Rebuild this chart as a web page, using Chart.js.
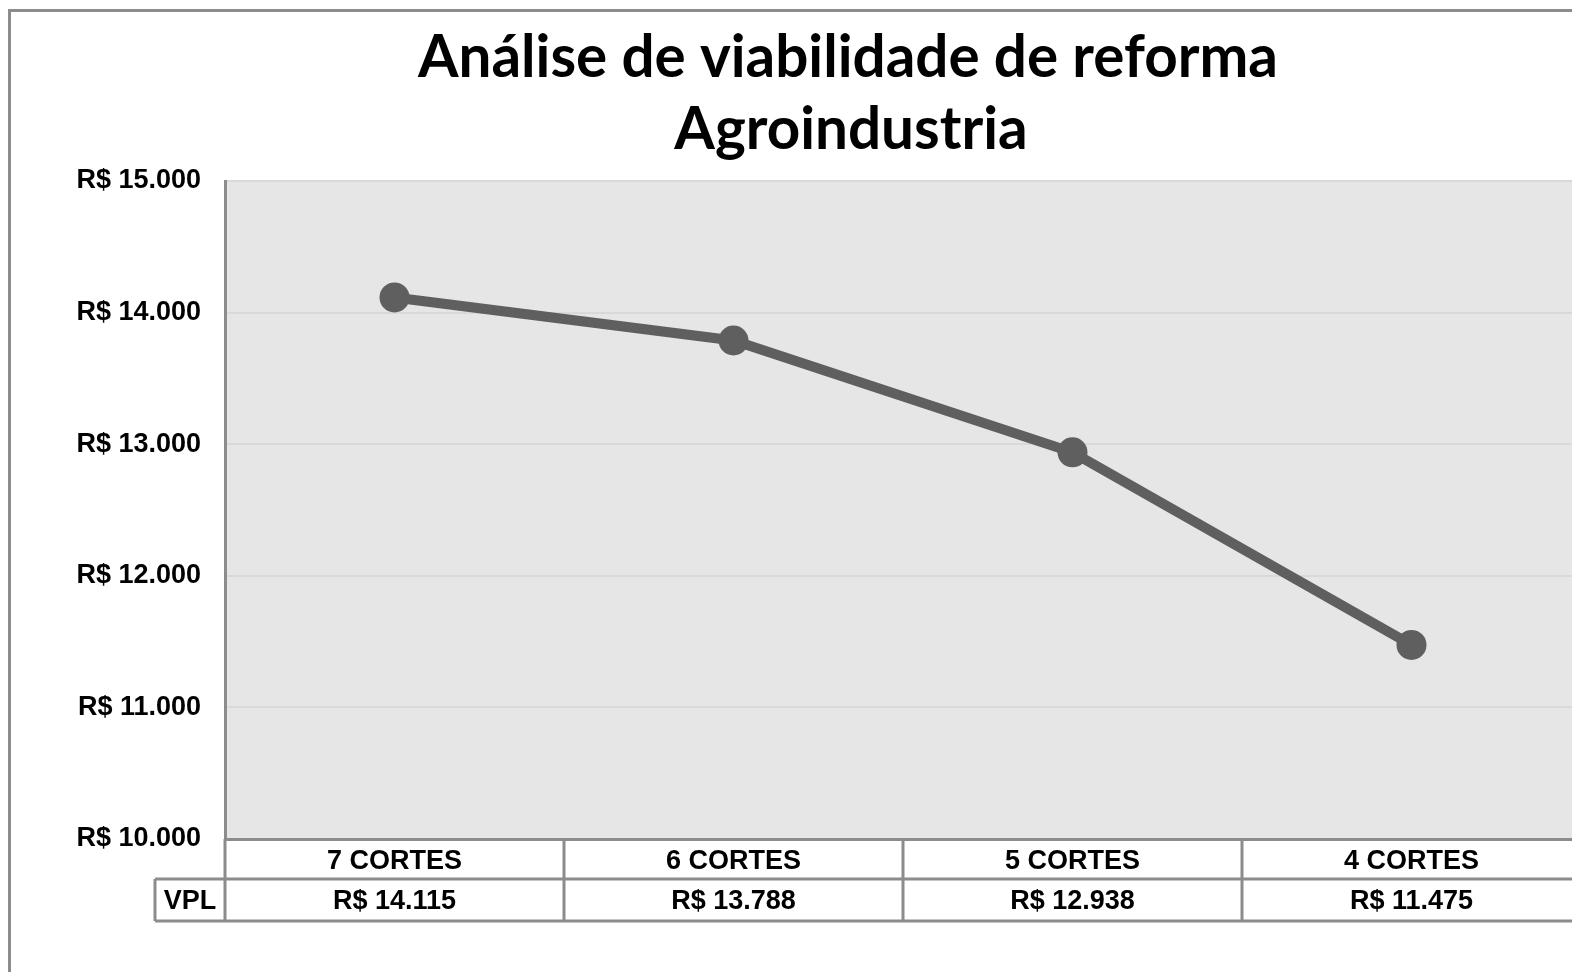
<!DOCTYPE html>
<html>
<head>
<meta charset="utf-8">
<script src="https://cdn.jsdelivr.net/npm/chart.js@4/dist/chart.umd.min.js"></script>
<style>
  html, body { margin: 0; padding: 0; width: 1572px; height: 972px; overflow: hidden; background: #ffffff; }
  #frame { position: absolute; left: 8px; top: 9px; width: 2000px; height: 2000px; border: 3px solid #8c8c8c; box-sizing: border-box; }
  #c { position: absolute; left: 0; top: 0; }
</style>
</head>
<body>
<div id="frame"></div>
<canvas id="c" width="1600" height="972"></canvas>
<script>
// ---- data ----
const titleLines = ["Análise de viabilidade de reforma", "Agroindustria"];
const categories = ["7 CORTES", "6 CORTES", "5 CORTES", "4 CORTES"];
const seriesName = "VPL";
const vplValues = [14115, 13788, 12938, 11475];
const yMin = 10000, yMax = 15000, yStep = 1000;

function brl(v) {
  return "R$ " + String(Math.round(v)).replace(/\B(?=(\d{3})+(?!\d))/g, ".");
}

const lineColor = "#5f5f5f";
const frameGray = "#8c8c8c";
const labelFont = "'Liberation Sans', Arial, sans-serif";

const plotBg = {
  id: "plotBg",
  beforeDraw(chart) {
    const { ctx, chartArea: a } = chart;
    ctx.save();
    ctx.fillStyle = "#e6e6e6";
    ctx.fillRect(a.left, a.top, a.right - a.left, a.bottom - a.top);
    ctx.restore();
  }
};

const titlePlugin = {
  id: "titlePlugin",
  afterDraw(chart) {
    const ctx = chart.ctx;
    ctx.save();
    ctx.fillStyle = "#000";
    ctx.textAlign = "center";
    ctx.textBaseline = "alphabetic";
    ctx.font = "bold 56px Lato";
    const w = ctx.measureText(titleLines[0]).width;
    const size = 56 * 860 / w;
    ctx.font = "bold " + size.toFixed(1) + "px Lato";
    ctx.fillText(titleLines[0], 848, 77);
    ctx.fillText(titleLines[1], 851, 149);
    ctx.restore();
  }
};

const tablePlugin = {
  id: "tablePlugin",
  afterDraw(chart) {
    const { ctx, chartArea: a } = chart;
    const xs = chart.scales.x;
    const row1Bottom = a.bottom + 40;
    const row2Bottom = a.bottom + 82;
    const labelLeft = 155;
    const step = xs.getPixelForValue(1) - xs.getPixelForValue(0);
    ctx.save();
    ctx.strokeStyle = frameGray;
    ctx.lineWidth = 3;
    ctx.beginPath();
    ctx.moveTo(labelLeft, row1Bottom); ctx.lineTo(chart.width, row1Bottom);
    ctx.moveTo(labelLeft, row2Bottom); ctx.lineTo(chart.width, row2Bottom);
    ctx.moveTo(labelLeft, row1Bottom); ctx.lineTo(labelLeft, row2Bottom);
    ctx.moveTo(a.left, a.bottom); ctx.lineTo(a.left, row2Bottom);
    for (let i = 0; i < categories.length; i++) {
      const bx = xs.getPixelForValue(i) + step / 2;
      ctx.moveTo(bx, a.bottom); ctx.lineTo(bx, row2Bottom);
    }
    ctx.stroke();
    ctx.fillStyle = "#000";
    ctx.font = "bold 27px " + labelFont;
    ctx.textBaseline = "middle";
    ctx.textAlign = "center";
    const cy = (row1Bottom + row2Bottom) / 2 + 2;
    ctx.fillText(seriesName, (labelLeft + a.left) / 2, cy);
    vplValues.forEach((v, i) => {
      ctx.fillText(brl(v), xs.getPixelForValue(i), cy);
    });
    ctx.restore();
  }
};

new Chart(document.getElementById("c"), {
  type: "line",
  data: {
    labels: categories,
    datasets: [{
      label: seriesName,
      data: vplValues,
      borderColor: lineColor,
      backgroundColor: lineColor,
      borderWidth: 10,
      pointRadius: 15,
      pointBackgroundColor: lineColor,
      pointBorderWidth: 0,
      tension: 0,
      clip: false
    }]
  },
  options: {
    responsive: false,
    animation: false,
    layout: { padding: { top: 181, left: 0, right: 19, bottom: 0 } },
    plugins: { legend: { display: false }, title: { display: false }, tooltip: { enabled: false } },
    scales: {
      x: {
        offset: true,
        grid: { display: false, drawTicks: false },
        border: { display: true, color: frameGray, width: 3 },
        ticks: { color: "#000", padding: 6, font: { family: labelFont, size: 27, weight: "bold", lineHeight: 1.2 }, maxRotation: 0 },
        afterFit(s) { s.height = 133; }
      },
      y: {
        min: yMin, max: yMax,
        grid: { color: "#d9d9d9", lineWidth: 2, drawTicks: false },
        border: { display: true, color: frameGray, width: 3 },
        ticks: { stepSize: yStep, color: "#000", padding: 24, font: { family: labelFont, size: 27, weight: "bold" }, callback: (v) => brl(v) },
        afterFit(s) { s.width = 225; }
      }
    }
  },
  plugins: [plotBg, titlePlugin, tablePlugin]
});
</script>
</body>
</html>
